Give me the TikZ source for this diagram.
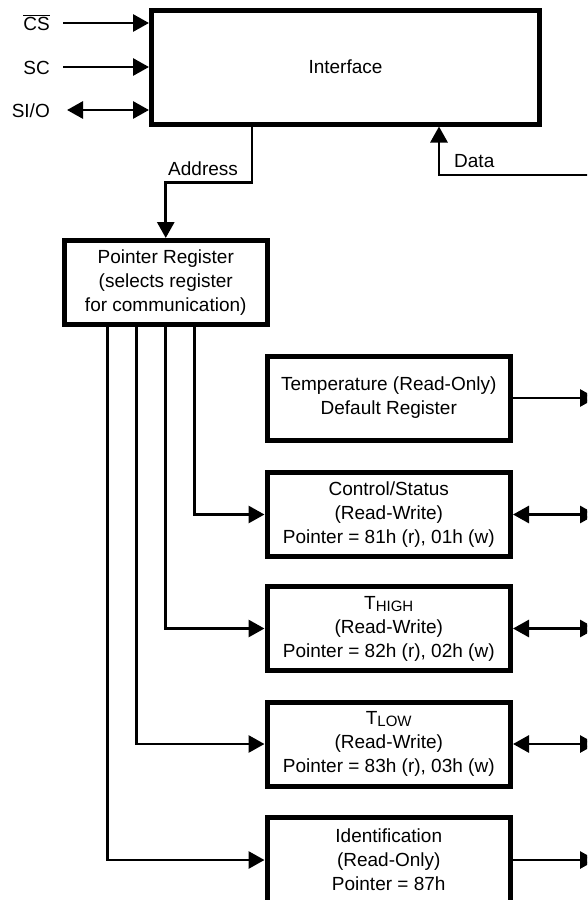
\documentclass[tikz,border=0pt]{standalone}
\usepackage{fontspec}
\setmainfont{Liberation Sans}
\usetikzlibrary{arrows.meta}
\begin{document}
\begin{tikzpicture}[x=1pt,y=1pt,
  font=\fontsize{19}{24}\selectfont,
  box/.style={draw, line width=5pt, inner sep=0pt, align=center},
  reg/.style={box, minimum width=243.5pt, minimum height=84pt},
  conn/.style={line width=2.9pt},
  tip/.style={conn, -{Triangle[length=16pt,width=17pt]}},
  both/.style={conn, {Triangle[length=16pt,width=17pt]}-{Triangle[length=16pt,width=17pt]}},
  lbl/.style={anchor=east, inner sep=0pt, text height=14pt, text depth=0pt},
  txt/.style={anchor=base west, inner sep=0pt}]
\useasboundingbox (0,0) rectangle (587,-900);
\clip (0,0) rectangle (587,-900);

% main blocks
\node[box, minimum width=388pt, minimum height=114pt] (iface) at (345.5,-67) {Interface};
\node[box, minimum width=203.5pt, minimum height=83.5pt] (ptr) at (165.75,-282.25)
  {Pointer Register\\(selects register\\for communication)};
\node[reg] (temp) at (388.75,-398) {Temperature (Read-Only)\\Default Register};
\node[reg] (ctrl) at (388.75,-514.5) {Control/Status\\(Read-Write)\\Pointer = 81h (r), 01h (w)};
\node[reg] (thigh) at (388.75,-628.5) {T\raisebox{-2pt}{\fontsize{15}{15}\selectfont HIGH}\\(Read-Write)\\Pointer = 82h (r), 02h (w)};
\node[reg] (tlow) at (388.75,-744) {T\raisebox{-2pt}{\fontsize{15}{15}\selectfont LOW}\\(Read-Write)\\Pointer = 83h (r), 03h (w)};
\node[reg, minimum height=86pt] (ident) at (388.75,-860) {Identification\\(Read-Only)\\Pointer = 87h};

% pin labels
\node[lbl] (cs) at (50,-23) {$\overline{\mbox{CS}}$};
\node[lbl] (sc) at (50,-67) {SC};
\node[lbl] (sio) at (50,-110) {SI/O};

\draw[tip] ([xshift=13pt]cs.east) -- (cs.east -| iface.west);
\draw[tip] ([xshift=13pt]sc.east) -- (sc.east -| iface.west);
\draw[both] ([xshift=17pt]sio.east) -- (sio.east -| iface.west);

% address / data
\draw[tip] ([xshift=-93.5pt]iface.south) -- ++(0,-56) -| (ptr.north);
\node[txt] (addr) at (168,-175) {Address};
\coordinate (dend) at (590,-175);
\draw[tip] (dend) -| ([xshift=93.5pt]iface.south);
\node[txt] (data) at (454,-167) {Data};

% pointer to registers
\draw[tip] ([xshift=29pt]ptr.south) |- (ctrl.west);
\draw[tip] (ptr.south) |- (thigh.west);
\draw[tip] ([xshift=-29pt]ptr.south) |- (tlow.west);
\draw[tip] ([xshift=-58pt]ptr.south) |- (ident.west);

% register outputs
\coordinate (redge) at (596,0);
\draw[tip] (temp.east) -- (temp.east -| redge);
\draw[both] (ctrl.east) -- (ctrl.east -| redge);
\draw[both] (thigh.east) -- (thigh.east -| redge);
\draw[both] (tlow.east) -- (tlow.east -| redge);
\draw[tip] (ident.east) -- (ident.east -| redge);
\end{tikzpicture}
\end{document}
